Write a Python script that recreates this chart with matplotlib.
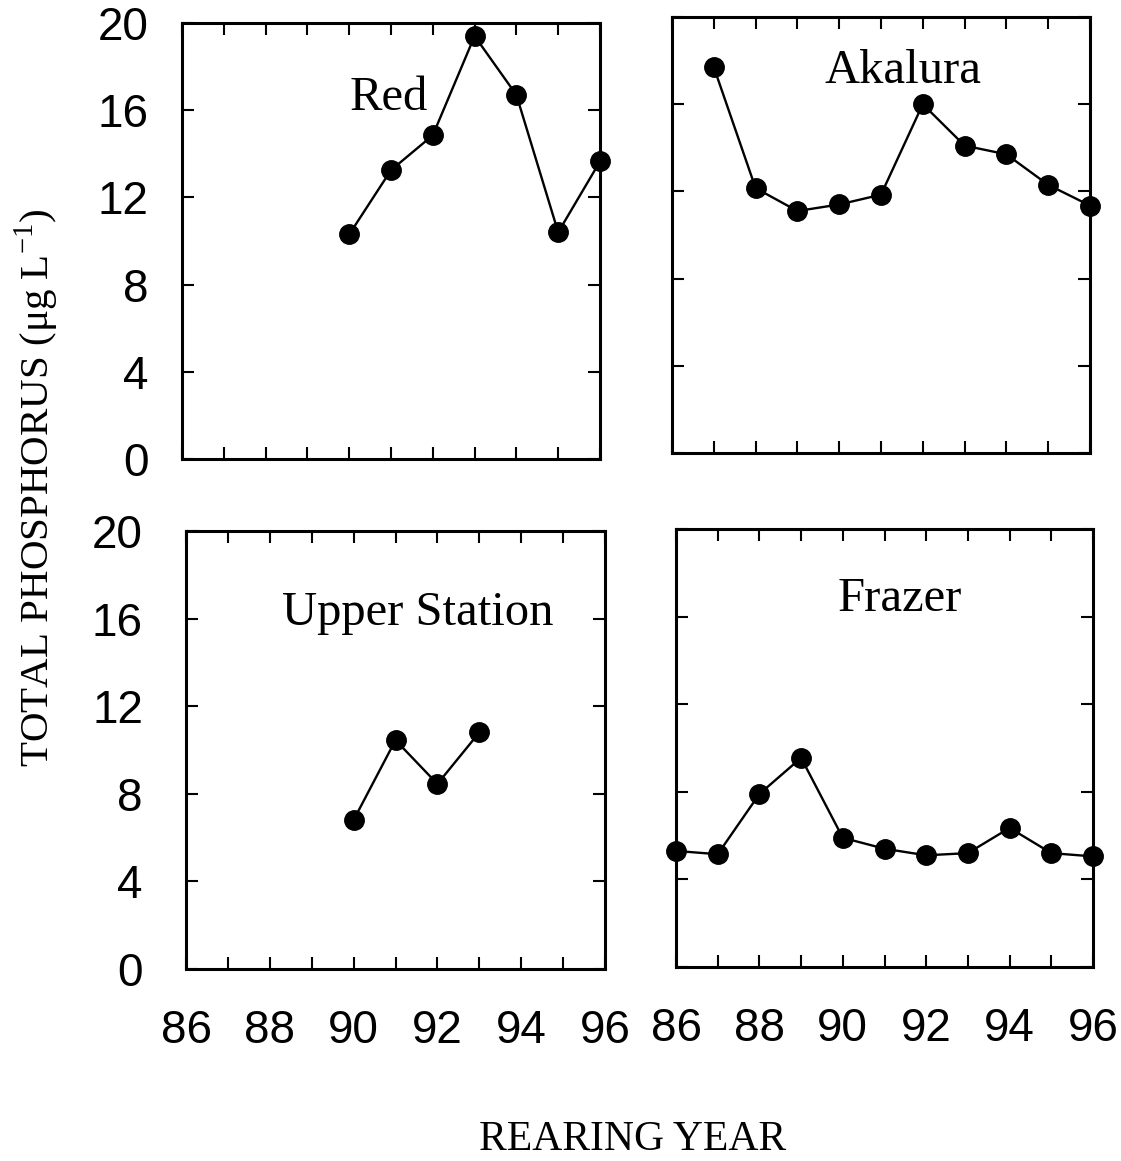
import numpy as np
import matplotlib.pyplot as plt

# data (rearing year, total phosphorus ug/L)
red_years = [90, 91, 92, 93, 94, 95, 96]
red_tp = [10.3, 13.25, 14.85, 19.4, 16.7, 10.4, 13.65]

akalura_years = [87, 88, 89, 90, 91, 92, 93, 94, 95, 96]
akalura_tp = [17.7, 12.15, 11.1, 11.4, 11.85, 16.0, 14.1, 13.7, 12.3, 11.35]

upper_years = [90, 91, 92, 93]
upper_tp = [6.8, 10.45, 8.45, 10.8]

frazer_years = [86, 87, 88, 89, 90, 91, 92, 93, 94, 95, 96]
frazer_tp = [5.3, 5.15, 7.9, 9.55, 5.9, 5.4, 5.1, 5.2, 6.35, 5.2, 5.05]

xticks = np.arange(86, 97, 2)
yticks = np.arange(0, 21, 4)

W, H = 1121, 1161
fig = plt.figure(figsize=(W / 100, H / 100), dpi=100)

def box(l, r, t, b):
    return [l / W, 1 - b / H, (r - l) / W, (b - t) / H]

panels = [
    (box(182, 600, 23, 459), red_years, red_tp, "Red", (0.495, 0.80), 24, True, False),
    (box(672, 1090, 17, 453), akalura_years, akalura_tp, "Akalura", (0.553, 0.849), 24, False, False),
    (box(186, 605, 531, 969), upper_years, upper_tp, "Upper Station", (0.554, 0.785), 31, True, True),
    (box(676, 1093, 529, 967), frazer_years, frazer_tp, "Frazer", (0.537, 0.813), 31, False, True),
]

for rect, xs, ys, name, tpos, ypad, show_y, show_x in panels:
    ax = fig.add_axes(rect)
    ax.plot(xs, ys, color="black", lw=1.7, marker="o", ms=14, clip_on=False, zorder=3)
    ax.set_xlim(86, 96)
    ax.set_ylim(0, 20)
    ax.set_xticks(np.arange(86, 97, 1))
    ax.set_xticklabels([str(x) if x in xticks else "" for x in range(86, 97)])
    ax.set_yticks(yticks)
    ax.tick_params(direction="in", length=8.5, width=1.5, top=True, right=True,
                   labelsize=33)
    ax.tick_params(axis="x", pad=29)
    ax.tick_params(axis="y", pad=ypad)
    if not show_x:
        ax.tick_params(labelbottom=False)
    if not show_y:
        ax.tick_params(labelleft=False)
    for lab in ax.get_xticklabels() + ax.get_yticklabels():
        lab.set_fontfamily("Liberation Sans")
    for s in ax.spines.values():
        s.set_linewidth(2.2)
    ax.text(tpos[0], tpos[1], name, transform=ax.transAxes, ha="center", va="baseline",
            fontsize=35, family="Liberation Serif")

fig.text(37 / W, 1 - 488 / H, r"TOTAL PHOSPHORUS ($\mathregular{\mu}$g L$^{\mathregular{-1}}$)",
         rotation=90, ha="center", va="center", fontsize=29.5, family="Liberation Serif")
fig.text(633 / W, 1 - 1140 / H, "REARING YEAR", ha="center", va="center",
         fontsize=30, family="Liberation Serif")

fig.savefig("out.png", dpi=100)
